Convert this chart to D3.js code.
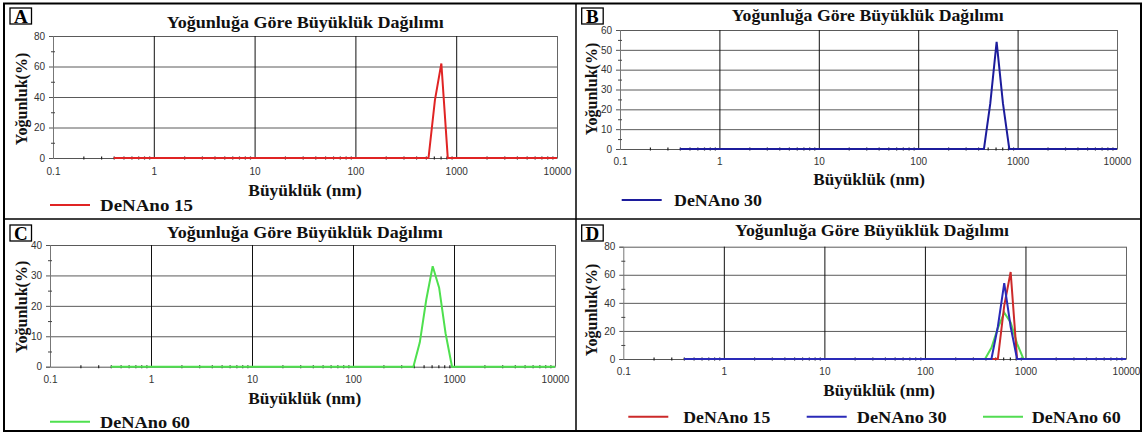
<!DOCTYPE html>
<html>
<head>
<meta charset="utf-8">
<script src="https://cdn.jsdelivr.net/npm/d3@7"></script>
<style>
  html, body { margin: 0; padding: 0; background: #fff; }
  svg { display: block; }
  .serif { font-family: "Liberation Serif", "Times New Roman", serif; font-weight: bold; fill: #111; }
  .tick text { font-family: "Liberation Sans", Arial, sans-serif; font-size: 10px; fill: #333; }
</style>
</head>
<body>
<svg id="chart" width="1145" height="434"></svg>
<script>
// Intensity size distribution (DLS) — size bins in nm and intensity (%) per sample
const sizes    = [0.4, 396.1, 458.7, 531.2, 615.1, 712.4, 825.0, 955.4, 10000];
const deNano15 = [0,   0,     0,     0,     38,    62,    0,     0,     0];
const deNano30 = [0,   0,     0,     23,    54,    23,    0,     0,     0];
const deNano60 = [0,   0,     8,     22,    33,    26,    11,    0,     0];

const seriesNames = ["DeNAno 15", "DeNAno 30", "DeNAno 60"];
const xTickValues = [0.1, 1, 10, 100, 1000, 10000];
const xTickLabels = ["0.1", "1", "10", "100", "1000", "10000"];
const titleText  = "Yoğunluğa Göre Büyüklük Dağılımı";
const yLabelText = "Yoğunluk(%)";
const xLabelText = "Büyüklük (nm)";

const seriesValues = { "DeNAno 15": deNano15, "DeNAno 30": deNano30, "DeNAno 60": deNano60 };

const svg = d3.select("#chart");

// outer frame and the two dividers
svg.append("rect").attr("x", 4).attr("y", 3.5).attr("width", 1137).attr("height", 427.5)
  .attr("fill", "none").attr("stroke", "#000").attr("stroke-width", 2);
svg.append("line").attr("x1", 576).attr("x2", 576).attr("y1", 3.5).attr("y2", 431)
  .attr("stroke", "#000").attr("stroke-width", 1.5);
svg.append("line").attr("x1", 4).attr("x2", 1141).attr("y1", 219).attr("y2", 219)
  .attr("stroke", "#000").attr("stroke-width", 1.5);

const panels = [
  { letter: "A", x0: 53, x1: 557, y0: 36, y1: 158, ymax: 80, step: 20,
    colors: { "DeNAno 15": "#e02424" }, series: ["DeNAno 15"],
    box: [10, 8], title: [166.7, 28, 277], yLab: [21, 99], tickY: 175,
    xTitle: [248.3, 196, 113.5], legY: 205,
    legend: [{ name: "DeNAno 15", lx: 50, tx: 100, tl: 93 }] },
  { letter: "B", x0: 620, x1: 1117, y0: 30, y1: 149, ymax: 60, step: 10,
    colors: { "DeNAno 30": "#1c1c9c" }, series: ["DeNAno 30"],
    box: [581.7, 8], title: [731.7, 21, 272], yLab: [591, 89], tickY: 165,
    xTitle: [813.3, 185, 111.7], legY: 200,
    legend: [{ name: "DeNAno 30", lx: 621.7, tx: 674, tl: 88 }] },
  { letter: "C", x0: 50, x1: 555, y0: 245, y1: 366.7, ymax: 40, step: 10,
    colors: { "DeNAno 60": "#4ee04e" }, series: ["DeNAno 60"],
    box: [10, 225], title: [166.7, 238, 276], yLab: [21, 307], tickY: 383,
    xTitle: [248.3, 404, 113], legY: 421.7,
    legend: [{ name: "DeNAno 60", lx: 50, tx: 100, tl: 90 }] },
  { letter: "D", x0: 623.3, x1: 1126, y0: 246.7, y1: 359, ymax: 80, step: 20,
    colors: { "DeNAno 15": "#cc2a2a", "DeNAno 30": "#2a2ab8", "DeNAno 60": "#52dc52" },
    series: ["DeNAno 60", "DeNAno 15", "DeNAno 30"],
    box: [581.7, 225], title: [735, 236, 274], yLab: [591, 310], tickY: 375,
    xTitle: [823.3, 396, 111.7], legY: 416.7,
    legend: [{ name: "DeNAno 15", lx: 628.3, tx: 683.3, tl: 87 },
             { name: "DeNAno 30", lx: 806.7, tx: 856.7, tl: 90 },
             { name: "DeNAno 60", lx: 983, tx: 1031.7, tl: 89 }] }
];

panels.forEach(drawPanel);

function drawPanel(p) {
  const g = svg.append("g");
  const x = d3.scaleLog().domain([0.1, 10000]).range([p.x0, p.x1]);
  const y = d3.scaleLinear().domain([0, p.ymax]).range([p.y1, p.y0]);
  const w = p.x1 - p.x0, h = p.y1 - p.y0;

  const majorY = d3.range(0, p.ymax + 0.001, p.step);
  const minorY = d3.range(p.step / 2, p.ymax, p.step);

  // horizontal gridlines
  g.append("g").attr("transform", `translate(${p.x0},0)`)
    .call(d3.axisLeft(y).tickValues(majorY.filter(v => v > 0)).tickSize(-w).tickFormat(""))
    .call(a => a.select(".domain").remove())
    .call(a => a.selectAll("line").attr("stroke", "#5a5a5a"));

  // vertical gridlines at the decades
  g.append("g").attr("transform", `translate(0,${p.y1})`)
    .call(d3.axisBottom(x).tickValues(xTickValues.slice(1)).tickSize(-h).tickFormat(""))
    .call(a => a.select(".domain").remove())
    .call(a => a.selectAll("line").attr("stroke", (d) => d === 10000 ? "#666" : "#111"));

  // left axis with value labels
  g.append("g").attr("transform", `translate(${p.x0},0)`)
    .call(d3.axisLeft(y).tickValues(majorY).tickSize(4).tickPadding(4).tickFormat(d3.format("d")))
    .call(a => a.select(".domain").attr("stroke", "#777"))
    .call(a => a.selectAll(".tick line").attr("stroke", "#555"));
  // minor y ticks crossing the axis
  g.append("g").attr("transform", `translate(${p.x0 + 2},0)`)
    .call(d3.axisLeft(y).tickValues(minorY).tickSize(4).tickFormat(""))
    .call(a => a.select(".domain").remove())
    .call(a => a.selectAll("line").attr("stroke", "#444"));

  // bottom axis line and decade labels
  g.append("g").attr("transform", `translate(0,${p.y1})`)
    .call(d3.axisBottom(x).tickValues(xTickValues).tickSize(0).tickPadding(0)
      .tickFormat((d, i) => xTickLabels[i]))
    .call(a => a.select(".domain").attr("stroke", "#555"))
    .call(a => a.selectAll("text").attr("y", p.tickY - p.y1).attr("dy", 0));

  // minor x ticks (2..9 per decade), short marks on the baseline
  const minorX = [];
  for (let e = -1; e < 4; e++) for (let k = 2; k <= 9; k++) minorX.push(k * Math.pow(10, e));
  g.append("g").attr("transform", `translate(0,${p.y1 + 1.5})`)
    .call(d3.axisBottom(x).tickValues(minorX).tickSize(-3).tickFormat(""))
    .call(a => a.select(".domain").remove())
    .call(a => a.selectAll("line").attr("stroke", "#222").attr("stroke-width", 1.2));

  // data lines
  const line = d3.line().x(d => x(d[0])).y(d => y(d[1]));
  p.series.forEach(name => {
    const pts = sizes.map((s, i) => [s, seriesValues[name][i]]);
    g.append("path").datum(pts).attr("d", line)
      .attr("fill", "none").attr("stroke", p.colors[name]).attr("stroke-width", 2)
      .attr("stroke-linejoin", "miter");
  });

  // panel letter in a box
  g.append("rect").attr("x", p.box[0]).attr("y", p.box[1]).attr("width", 21.5).attr("height", 16)
    .attr("fill", "#fff").attr("stroke", "#000").attr("stroke-width", 1.3);
  g.append("text").attr("class", "serif").attr("x", p.box[0] + 10.75).attr("y", p.box[1] + 14.5)
    .attr("text-anchor", "middle").style("font-size", "19px").style("fill", "#000").text(p.letter);

  // title
  g.append("text").attr("class", "serif").attr("x", p.title[0]).attr("y", p.title[1])
    .attr("textLength", p.title[2]).attr("lengthAdjust", "spacingAndGlyphs")
    .style("font-size", "16px").text(titleText);

  // y label
  g.append("text").attr("class", "serif")
    .attr("transform", `translate(${p.yLab[0]},${p.yLab[1]}) rotate(-90)`)
    .attr("text-anchor", "middle").attr("dominant-baseline", "central")
    .style("font-size", "16px").text(yLabelText);

  // x label
  g.append("text").attr("class", "serif").attr("x", p.xTitle[0]).attr("y", p.xTitle[1])
    .attr("textLength", p.xTitle[2]).attr("lengthAdjust", "spacingAndGlyphs")
    .style("font-size", "16px").text(xLabelText);

  // legend
  p.legend.forEach(it => {
    g.append("line").attr("x1", it.lx).attr("x2", it.lx + 40).attr("y1", p.legY).attr("y2", p.legY)
      .attr("stroke", p.colors[it.name]).attr("stroke-width", 2);
    g.append("text").attr("class", "serif").attr("x", it.tx).attr("y", p.legY + 6)
      .attr("textLength", it.tl).attr("lengthAdjust", "spacingAndGlyphs")
      .style("font-size", "16px").text(it.name);
  });
}
</script>
</body>
</html>
